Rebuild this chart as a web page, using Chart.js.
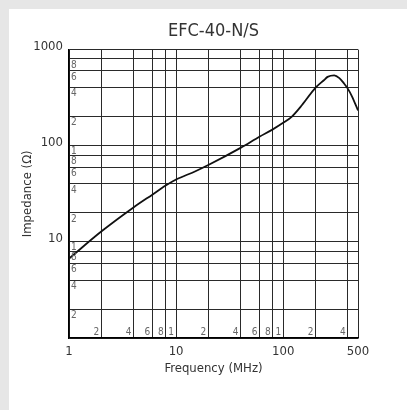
<!DOCTYPE html>
<html>
<head>
<meta charset="utf-8">
<script src="https://cdn.jsdelivr.net/npm/chart.js@4"></script>
<style>
  html, body { margin: 0; padding: 0; background: #e6e6e6; }
  #panel { position: absolute; left: 9px; top: 9px; right: 0; bottom: 0; background: #fff; }
  #wrap { position: absolute; left: 0; top: 0; width: 407px; height: 410px; }
</style>
</head>
<body>
<div id="panel"></div>
<div id="wrap"><canvas id="grafico"></canvas></div>
<script>
// datos
const titulo = 'EFC-40-N/S';
const frecuencias = [1, 2, 4, 6, 8, 10, 15, 20, 40, 60, 80, 100, 120, 150, 200, 240, 260, 300, 335, 370, 400, 440, 500];
const impedancias = [6.7, 12.8, 22.8, 31, 38.5, 44.5, 54, 63, 95, 124, 148, 173, 200, 265, 400, 480, 520, 540, 505, 445, 395, 325, 233];

// rejilla y etiquetas
const xRejilla = [1, 2, 4, 6, 8, 10, 20, 40, 60, 80, 100, 200, 400, 500];
const xEtiquetas = [1, 10, 100, 500];
const xMenoresValores = [2, 4, 6, 8, 10, 20, 40, 60, 80, 100, 200, 400];
const xMenores = ['2', '4', '6', '8', '1', '2', '4', '6', '8', '1', '2', '4'];

const yRejilla = [1, 2, 4, 6, 8, 10, 20, 40, 60, 80, 100, 200, 400, 600, 800, 1000];
const yEtiquetas = [10, 100, 1000];
const yMenoresValores = [2, 4, 6, 8, 10, 20, 40, 60, 80, 100, 200, 400, 600, 800];
const yMenores = ['2', '4', '6', '8', '1', '2', '4', '6', '8', '1', '2', '4', '6', '8'];

const fuente = "'Liberation Sans Narrow', 'DejaVu Sans Condensed', sans-serif";

document.addEventListener("DOMContentLoaded", () => {
    const ctx = document.getElementById('grafico').getContext('2d');

    // numeritos grises dentro del area
    const etiquetasInternas = {
        id: 'etiquetasInternas',
        afterDatasetsDraw(chart) {
            const { ctx, chartArea, scales } = chart;
            ctx.save();
            ctx.fillStyle = '#666';
            ctx.font = '10px ' + fuente;
            ctx.textAlign = 'left';
            ctx.textBaseline = 'top';
            yMenoresValores.forEach((v, i) => {
                ctx.fillText(yMenores[i], chartArea.left + 2, scales.y.getPixelForValue(v) + 1);
            });
            ctx.textAlign = 'right';
            ctx.textBaseline = 'bottom';
            xMenoresValores.forEach((v, i) => {
                ctx.fillText(xMenores[i], scales.x.getPixelForValue(v) - 2, chartArea.bottom - 1);
            });
            ctx.restore();
        }
    };

    const rejilla = { color: '#2a2a2a', lineWidth: 1, drawTicks: false };
    const borde = { color: '#000', width: 1.5 };

    new Chart(ctx, {
        type: 'line',
        data: {
            datasets: [{
                data: frecuencias.map((f, i) => ({ x: f, y: impedancias[i] })),
                borderColor: '#111',
                borderWidth: 1.8,
                pointRadius: 0,
                cubicInterpolationMode: 'monotone',
                fill: false
            }]
        },
        options: {
            responsive: true,
            maintainAspectRatio: false,
            animation: false,
            layout: { padding: { left: 10, right: 49, top: 0, bottom: 33 } },
            plugins: {
                legend: { display: false },
                tooltip: { enabled: false },
                title: {
                    display: true,
                    text: titulo,
                    fullSize: false,
                    color: '#333',
                    font: { family: fuente, size: 18, weight: 'normal' },
                    padding: { top: 21, bottom: 7 }
                }
            },
            scales: {
                x: {
                    type: 'logarithmic',
                    min: 1,
                    max: 500,
                    afterBuildTicks: s => { s.ticks = xRejilla.map(v => ({ value: v })); },
                    afterFit: s => { s.height = 39; },
                    ticks: {
                        callback: v => xEtiquetas.includes(v) ? String(v) : '',
                        autoSkip: false,
                        maxRotation: 0,
                        padding: 6,
                        color: '#333',
                        font: { family: fuente, size: 13 }
                    },
                    grid: rejilla,
                    border: borde,
                    title: {
                        display: true,
                        text: 'Frequency (MHz)',
                        color: '#333',
                        font: { family: fuente, size: 13 },
                        padding: { top: 0, bottom: 1 }
                    }
                },
                y: {
                    type: 'logarithmic',
                    min: 1,
                    max: 1000,
                    afterBuildTicks: s => { s.ticks = yRejilla.map(v => ({ value: v })); },
                    afterFit: s => { s.width = 59; },
                    ticks: {
                        callback: v => yEtiquetas.includes(v) ? String(v) : '',
                        autoSkip: false,
                        padding: 6,
                        labelOffset: -3,
                        color: '#333',
                        font: { family: fuente, size: 13 }
                    },
                    grid: rejilla,
                    border: borde,
                    title: {
                        display: true,
                        text: 'Impedance (Ω)',
                        color: '#333',
                        font: { family: fuente, size: 13 },
                        padding: { top: 10, bottom: 0 }
                    }
                }
            }
        },
        plugins: [etiquetasInternas]
    });
});
</script>
</body>
</html>
